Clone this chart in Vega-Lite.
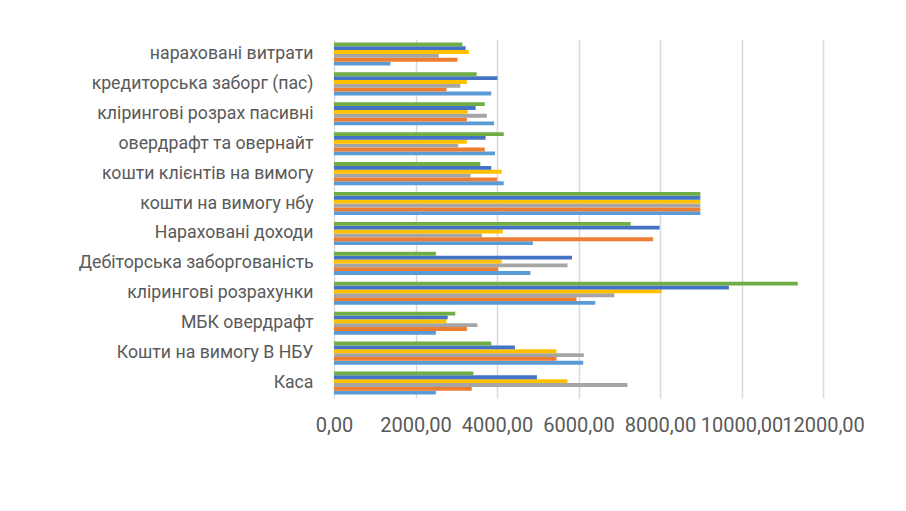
{
  "$schema": "https://vega.github.io/schema/vega-lite/v6.json",
  "width": 489,
  "height": 359,
  "autosize": "none",
  "padding": {"left": 334, "top": 39, "right": 83, "bottom": 113},
  "background": "white",
  "config": {"view": {"stroke": null}, "font": "Roboto"},
  "data": {
    "values": [
      {"k": "нараховані витрати", "s": "Ряд1", "v": 1385},
      {"k": "нараховані витрати", "s": "Ряд2", "v": 3030},
      {"k": "нараховані витрати", "s": "Ряд3", "v": 2570},
      {"k": "нараховані витрати", "s": "Ряд4", "v": 3310},
      {"k": "нараховані витрати", "s": "Ряд5", "v": 3230},
      {"k": "нараховані витрати", "s": "Ряд6", "v": 3150},
      {"k": "кредиторська заборг (пас)", "s": "Ряд1", "v": 3860},
      {"k": "кредиторська заборг (пас)", "s": "Ряд2", "v": 2760},
      {"k": "кредиторська заборг (пас)", "s": "Ряд3", "v": 3100},
      {"k": "кредиторська заборг (пас)", "s": "Ряд4", "v": 3260},
      {"k": "кредиторська заборг (пас)", "s": "Ряд5", "v": 4010},
      {"k": "кредиторська заборг (пас)", "s": "Ряд6", "v": 3500},
      {"k": "клірингові розрах пасивні", "s": "Ряд1", "v": 3925},
      {"k": "клірингові розрах пасивні", "s": "Ряд2", "v": 3260},
      {"k": "клірингові розрах пасивні", "s": "Ряд3", "v": 3750},
      {"k": "клірингові розрах пасивні", "s": "Ряд4", "v": 3280},
      {"k": "клірингові розрах пасивні", "s": "Ряд5", "v": 3475},
      {"k": "клірингові розрах пасивні", "s": "Ряд6", "v": 3700},
      {"k": "овердрафт та овернайт", "s": "Ряд1", "v": 3950},
      {"k": "овердрафт та овернайт", "s": "Ряд2", "v": 3700},
      {"k": "овердрафт та овернайт", "s": "Ряд3", "v": 3050},
      {"k": "овердрафт та овернайт", "s": "Ряд4", "v": 3260},
      {"k": "овердрафт та овернайт", "s": "Ряд5", "v": 3720},
      {"k": "овердрафт та овернайт", "s": "Ряд6", "v": 4165},
      {"k": "кошти клієнтів на вимогу", "s": "Ряд1", "v": 4165},
      {"k": "кошти клієнтів на вимогу", "s": "Ряд2", "v": 4000},
      {"k": "кошти клієнтів на вимогу", "s": "Ряд3", "v": 3350},
      {"k": "кошти клієнтів на вимогу", "s": "Ряд4", "v": 4115},
      {"k": "кошти клієнтів на вимогу", "s": "Ряд5", "v": 3860},
      {"k": "кошти клієнтів на вимогу", "s": "Ряд6", "v": 3590},
      {"k": "кошти на вимогу нбу", "s": "Ряд1", "v": 8990},
      {"k": "кошти на вимогу нбу", "s": "Ряд2", "v": 8990},
      {"k": "кошти на вимогу нбу", "s": "Ряд3", "v": 8990},
      {"k": "кошти на вимогу нбу", "s": "Ряд4", "v": 8990},
      {"k": "кошти на вимогу нбу", "s": "Ряд5", "v": 8990},
      {"k": "кошти на вимогу нбу", "s": "Ряд6", "v": 8990},
      {"k": "Нараховані доходи", "s": "Ряд1", "v": 4880},
      {"k": "Нараховані доходи", "s": "Ряд2", "v": 7830},
      {"k": "Нараховані доходи", "s": "Ряд3", "v": 3630},
      {"k": "Нараховані доходи", "s": "Ряд4", "v": 4140},
      {"k": "Нараховані доходи", "s": "Ряд5", "v": 7990},
      {"k": "Нараховані доходи", "s": "Ряд6", "v": 7280},
      {"k": "Дебіторська заборгованість", "s": "Ряд1", "v": 4820},
      {"k": "Дебіторська заборгованість", "s": "Ряд2", "v": 4030},
      {"k": "Дебіторська заборгованість", "s": "Ряд3", "v": 5730},
      {"k": "Дебіторська заборгованість", "s": "Ряд4", "v": 4115},
      {"k": "Дебіторська заборгованість", "s": "Ряд5", "v": 5840},
      {"k": "Дебіторська заборгованість", "s": "Ряд6", "v": 2500},
      {"k": "клірингові розрахунки", "s": "Ряд1", "v": 6410},
      {"k": "клірингові розрахунки", "s": "Ряд2", "v": 5950},
      {"k": "клірингові розрахунки", "s": "Ряд3", "v": 6880},
      {"k": "клірингові розрахунки", "s": "Ряд4", "v": 8040},
      {"k": "клірингові розрахунки", "s": "Ряд5", "v": 9690},
      {"k": "клірингові розрахунки", "s": "Ряд6", "v": 11380},
      {"k": "МБК овердрафт", "s": "Ряд1", "v": 2500},
      {"k": "МБК овердрафт", "s": "Ряд2", "v": 3260},
      {"k": "МБК овердрафт", "s": "Ряд3", "v": 3520},
      {"k": "МБК овердрафт", "s": "Ряд4", "v": 2760},
      {"k": "МБК овердрафт", "s": "Ряд5", "v": 2790},
      {"k": "МБК овердрафт", "s": "Ряд6", "v": 2975},
      {"k": "Кошти на вимогу В НБУ", "s": "Ряд1", "v": 6115},
      {"k": "Кошти на вимогу В НБУ", "s": "Ряд2", "v": 5460},
      {"k": "Кошти на вимогу В НБУ", "s": "Ряд3", "v": 6130},
      {"k": "Кошти на вимогу В НБУ", "s": "Ряд4", "v": 5460},
      {"k": "Кошти на вимогу В НБУ", "s": "Ряд5", "v": 4440},
      {"k": "Кошти на вимогу В НБУ", "s": "Ряд6", "v": 3860},
      {"k": "Каса", "s": "Ряд1", "v": 2500},
      {"k": "Каса", "s": "Ряд2", "v": 3380},
      {"k": "Каса", "s": "Ряд3", "v": 7200},
      {"k": "Каса", "s": "Ряд4", "v": 5730},
      {"k": "Каса", "s": "Ряд5", "v": 4980},
      {"k": "Каса", "s": "Ряд6", "v": 3420}
    ]
  },
  "mark": {"type": "bar"},
  "encoding": {
    "y": {
      "field": "k",
      "type": "nominal",
      "sort": [
        "нараховані витрати",
        "кредиторська заборг (пас)",
        "клірингові розрах пасивні",
        "овердрафт та овернайт",
        "кошти клієнтів на вимогу",
        "кошти на вимогу нбу",
        "Нараховані доходи",
        "Дебіторська заборгованість",
        "клірингові розрахунки",
        "МБК овердрафт",
        "Кошти на вимогу В НБУ",
        "Каса"
      ],
      "scale": {"paddingInner": 0.23, "paddingOuter": 0.115},
      "axis": {
        "title": null,
        "domain": false,
        "ticks": false,
        "grid": false,
        "labelFontSize": 17.7,
        "labelColor": "#595959",
        "labelPadding": 21,
        "labelLimit": 400
      }
    },
    "yOffset": {
      "field": "s",
      "type": "nominal",
      "sort": ["Ряд6", "Ряд5", "Ряд4", "Ряд3", "Ряд2", "Ряд1"]
    },
    "x": {
      "field": "v",
      "type": "quantitative",
      "scale": {"domain": [0, 12000], "nice": false},
      "axis": {
        "title": null,
        "values": [0, 2000, 4000, 6000, 8000, 10000, 12000],
        "domain": false,
        "ticks": false,
        "gridColor": "#d9d9d9",
        "gridWidth": 1.5,
        "labelExpr": "replace(format(datum.value, '.2f'), '.', ',')",
        "labelFontSize": 20,
        "labelColor": "#595959",
        "labelPadding": 17,
        "labelOverlap": false,
        "labelFlush": false
      }
    },
    "color": {
      "field": "s",
      "type": "nominal",
      "scale": {
        "domain": ["Ряд1", "Ряд2", "Ряд3", "Ряд4", "Ряд5", "Ряд6"],
        "range": ["#5B9BD5", "#ED7D31", "#A5A5A5", "#FFC000", "#4472C4", "#70AD47"]
      },
      "legend": null
    }
  }
}
